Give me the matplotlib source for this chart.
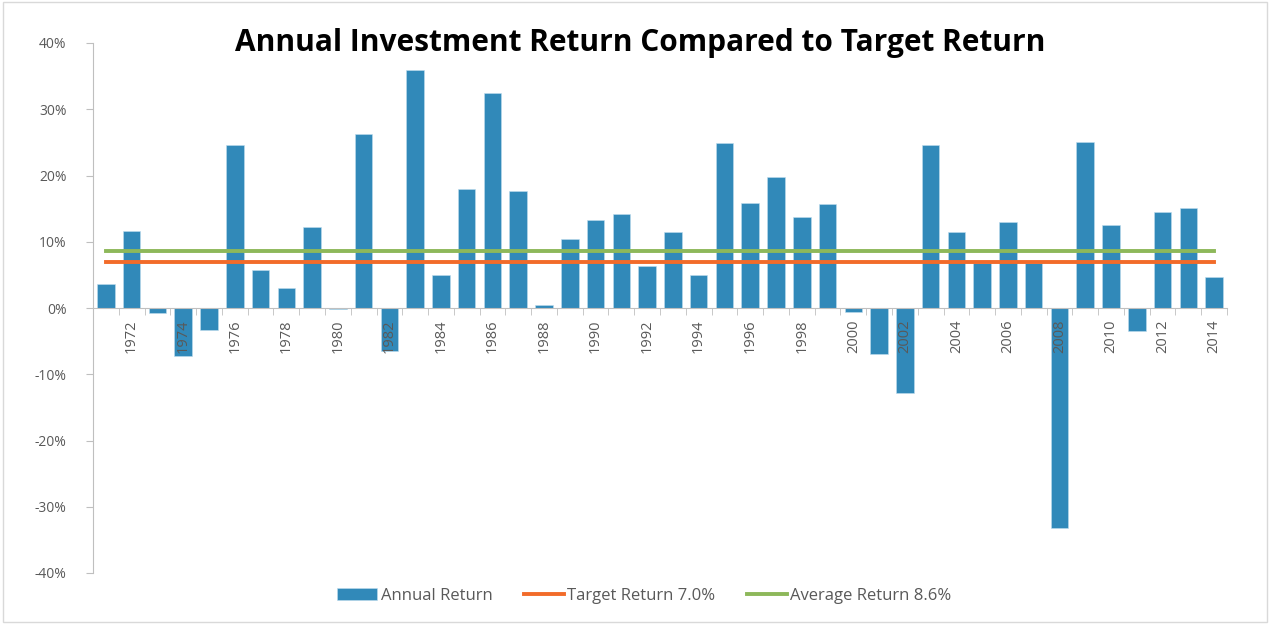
import matplotlib.pyplot as plt
from matplotlib.patches import Rectangle
from matplotlib.ticker import FixedLocator, FuncFormatter

plt.rcParams['font.family'] = ['Open Sans', 'DejaVu Sans']

# data (annual return in %)
years = list(range(1971, 2015))
returns = [3.6, 11.6, -0.8, -7.2, -3.3, 24.6, 5.7, 3.0, 12.2, -0.2,
           26.3, -6.5, 35.9, 5.0, 18.0, 32.4, 17.7, 0.5, 10.4, 13.3,
           14.2, 6.3, 11.5, 5.0, 24.9, 15.8, 19.8, 13.7, 15.7, -0.6,
           -7.0, -12.9, 24.6, 11.5, 6.8, 13.0, 6.8, -33.2, 25.1, 12.5,
           -3.5, 14.5, 15.1, 4.7]
target_return = 7.0
average_return = 8.6
y_ticks = [-40, -30, -20, -10, 0, 10, 20, 30, 40]

BLUE = '#3189B9'
ORANGE = '#F26B2A'
GREEN = '#8DB85A'
GRAY = '#595959'
AXIS = '#BFBFBF'

fig = plt.figure(figsize=(12.71, 6.24), dpi=100, facecolor='white')
ax = fig.add_axes([93 / 1271, 1 - 573 / 624, (1227 - 93) / 1271, (573 - 43) / 624])

x = list(range(len(years)))
bars = ax.bar(x, returns, width=0.68, color=BLUE, edgecolor='#BFDDEE', linewidth=0.4,
              label='Annual Return', zorder=2)
l_target, = ax.plot(x, [target_return] * len(x), color=ORANGE, lw=2.8, zorder=3,
                    label='Target Return 7.0%')
l_avg, = ax.plot(x, [average_return] * len(x), color=GREEN, lw=2.8, zorder=3,
                 label='Average Return 8.6%')

ax.set_xlim(-0.5, len(years) - 0.5)
ax.set_ylim(-40, 40)
ax.set_axisbelow(False)

# axes look (Excel style)
for s in ['top', 'right']:
    ax.spines[s].set_visible(False)
ax.spines['left'].set_color(AXIS)
ax.spines['bottom'].set_color(AXIS)
ax.spines['bottom'].set_position(('data', 0))

ax.yaxis.set_major_locator(FixedLocator(y_ticks))
ax.yaxis.set_major_formatter(FuncFormatter(lambda v, p: f'{int(v)}%'))
ax.tick_params(axis='y', colors=AXIS, labelcolor=GRAY, labelsize=10, length=5, pad=14)

# labels every other year, tick marks at category boundaries
lab_pos = [i for i, yr in enumerate(years) if yr % 2 == 0]
ax.set_xticks(lab_pos)
ax.set_xticklabels([str(years[i]) for i in lab_pos], rotation=90, fontsize=10.5,
                   color=GRAY)
ax.set_xticks([i - 0.5 for i in range(len(years) + 1)], minor=True)
ax.tick_params(axis='x', which='major', length=0, pad=8)
ax.tick_params(axis='x', which='minor', length=5, colors=AXIS)

fig.text(0.504, 0.931, 'Annual Investment Return Compared to Target Return',
         ha='center', va='center', fontsize=21.5, fontweight='bold', color='black')

fig.legend(handles=[bars, l_target, l_avg], loc='center',
           bbox_to_anchor=(0.507, 1 - 596 / 624), ncol=3, frameon=False,
           fontsize=12, handlelength=2.4, handletextpad=0.2, columnspacing=1.9,
           labelcolor=GRAY)

# thin frame around the whole picture
fig.patches.append(Rectangle((0.002, 0.004), 0.995, 0.993, transform=fig.transFigure,
                             fill=False, edgecolor='#D9D9D9', lw=1))

fig.savefig('out.png', dpi=100, facecolor='white')
